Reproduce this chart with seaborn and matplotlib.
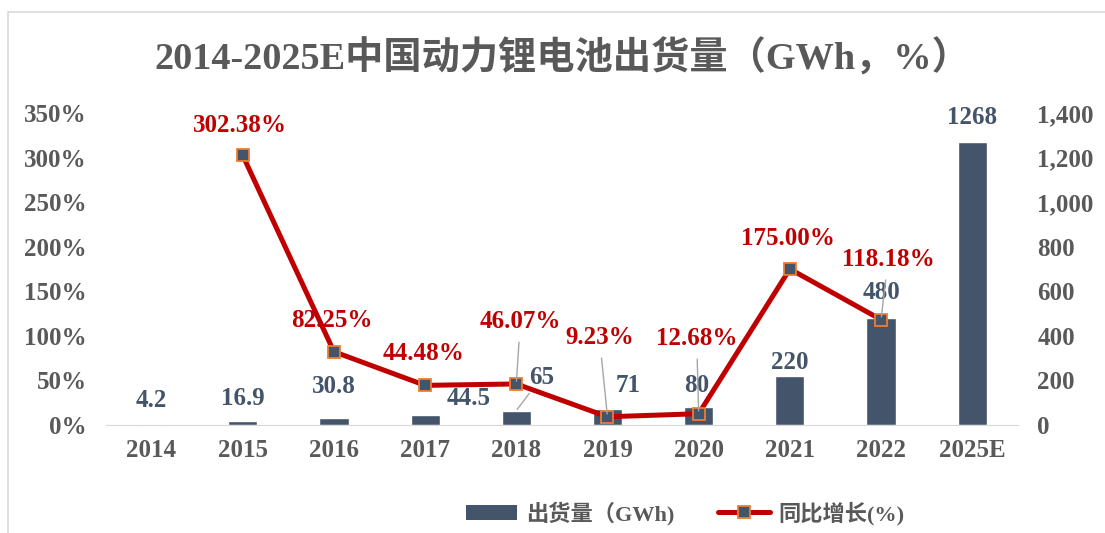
import numpy as np
import pandas as pd
import seaborn as sns
import matplotlib.pyplot as plt
from matplotlib.ticker import FuncFormatter, StrMethodFormatter
from matplotlib.lines import Line2D
from matplotlib.patches import Patch, Rectangle

# ==========================================
# Data
# ==========================================
years = ['2014', '2015', '2016', '2017', '2018', '2019', '2020', '2021', '2022', '2025E']
shipments = [4.2, 16.9, 30.8, 44.5, 65, 71, 80, 220, 480, 1268]          # GWh
growth_years = ['2015', '2016', '2017', '2018', '2019', '2020', '2021', '2022']
growth = [302.38, 82.25, 44.48, 46.07, 9.23, 12.68, 175.00, 118.18]      # %

title = '2014-2025E中国动力锂电池出货量（GWh，%）'
bar_name = '出货量（GWh)'
line_name = '同比增长(%)'

# label offsets in pixels (dx, dy, leader line?)
bar_offsets = [(0, 24, False), (0, 23, False), (0, 32, False), (44, 17, False), (25, 33, True),
               (21, 24, False), (-2, 22, False), (0, 13, False), (0, 26, False), (0, 25, False)]
line_offsets = [(-3, 30, False), (-2, 31, False), (-2, 32, False), (4, 62, True),
                (-8, 79, True), (-2, 75, True), (-2, 31, False), (7, 60, True)]

BAR_COLOR = '#44546A'
LINE_COLOR = '#C00000'
MARK_EDGE = '#ED7D31'
TEXT_GRAY = '#595959'

sns.set_style('white')
plt.rcParams['font.family'] = ['Liberation Serif', 'Noto Sans CJK SC', 'DejaVu Sans']
plt.rcParams['font.weight'] = 'bold'

df_bar = pd.DataFrame({'year': years, 'shipments': shipments})
df_line = pd.DataFrame({'pos': [years.index(y) for y in growth_years],
                        'growth': [g / 100 for g in growth]})

fig = plt.figure(figsize=(11.05, 5.33), dpi=100)
ax = fig.add_axes([0.0959, 0.2026, 0.8252, 0.5854])

# bars (values on the right-hand axis)
sns.barplot(data=df_bar, x='year', y='shipments', color=BAR_COLOR, width=0.32,
            saturation=1, ax=ax)
ax.set_ylim(0, 1400)
ax.set_yticks(np.arange(0, 1401, 200))
ax.set_xlim(-0.5, len(years) - 0.5)

# growth line (values on the left-hand axis)
ax2 = ax.twinx()
sns.lineplot(data=df_line, x='pos', y='growth', color=LINE_COLOR, linewidth=3.6,
             marker='s', markersize=9, markerfacecolor=BAR_COLOR,
             markeredgecolor=MARK_EDGE, markeredgewidth=1.3, ax=ax2)
ax2.set_ylim(0, 3.5)
ax2.set_yticks(np.arange(0, 3.51, 0.5))
ax.set_xlim(-0.5, len(years) - 0.5)

# swap the sides: bars read on the right, growth on the left
ax.yaxis.tick_right()
ax2.yaxis.tick_left()
ax.yaxis.set_major_formatter(StrMethodFormatter('{x:,.0f}'))
ax2.yaxis.set_major_formatter(FuncFormatter(lambda v, p: f'{v * 100:.0f}%'))

for a in (ax, ax2):
    a.set_xlabel('')
    a.set_ylabel('')
    for s in a.spines.values():
        s.set_visible(False)
    a.tick_params(length=0, labelsize=18, colors=TEXT_GRAY)
    for t in a.get_yticklabels() + a.get_xticklabels():
        t.set_fontweight('bold')
ax.spines['bottom'].set_visible(True)
ax.spines['bottom'].set_color('#D9D9D9')
ax.tick_params(axis='x', pad=10)
ax.tick_params(axis='y', pad=14)
ax2.tick_params(axis='y', pad=14)

# bar value labels
for i, (v, (dx, dy, lead)) in enumerate(zip(shipments, bar_offsets)):
    arrow = dict(arrowstyle='-', color='#A6A6A6', lw=1, shrinkA=1, shrinkB=1) if lead else None
    ax.annotate(f'{v:g}', xy=(i, v), xytext=(dx, dy), textcoords='offset pixels',
                ha='center', va='center', fontsize=18, fontweight='bold',
                color=BAR_COLOR, arrowprops=arrow, zorder=5)

# growth value labels
for x, g, (dx, dy, lead) in zip(df_line['pos'], growth, line_offsets):
    arrow = dict(arrowstyle='-', color='#A6A6A6', lw=1, shrinkA=4, shrinkB=2) if lead else None
    ax2.annotate(f'{g:.2f}%', xy=(x, g / 100), xytext=(dx, dy), textcoords='offset pixels',
                 ha='center', va='center', fontsize=18, fontweight='bold',
                 color=LINE_COLOR, arrowprops=arrow, zorder=6)

fig.text(0.509, 0.89, title, ha='center', va='center', fontsize=27.5,
         fontweight='bold', color=TEXT_GRAY)

handles = [Patch(facecolor=BAR_COLOR, edgecolor='none'),
           Line2D([0], [0], color=LINE_COLOR, linewidth=3.6, marker='s', markersize=9,
                  markerfacecolor=BAR_COLOR, markeredgecolor=MARK_EDGE, markeredgewidth=1.3)]
leg = fig.legend(handles, [bar_name, line_name], loc='center', bbox_to_anchor=(0.62, 0.037),
                 ncol=2, frameon=False, fontsize=16, handlelength=2.3, columnspacing=2.0,
                 handletextpad=0.4)
for t in leg.get_texts():
    t.set_color(TEXT_GRAY)
    t.set_fontweight('bold')

fig.patches.append(Rectangle((8 / 1105, -0.05), 1.1, (533 - 12) / 533 + 0.05,
                             transform=fig.transFigure, fill=False,
                             edgecolor='#D9D9D9', linewidth=1.2))

fig.savefig('out.png', dpi=100)
